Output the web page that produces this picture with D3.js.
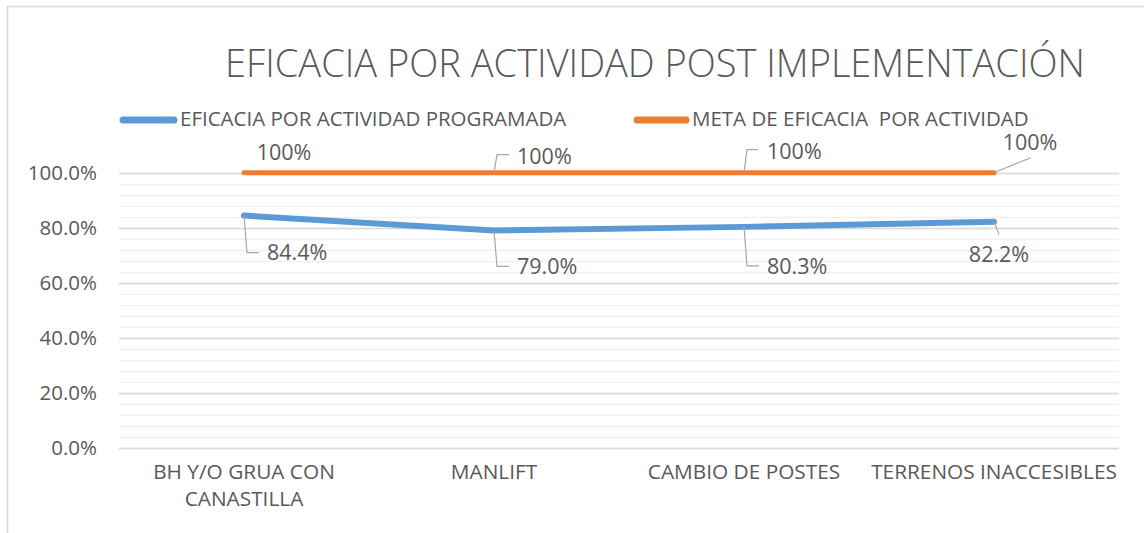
<!DOCTYPE html>
<html>
<head>
<meta charset="utf-8">
<script src="https://cdn.jsdelivr.net/npm/d3@7"></script>
<style>
  html, body { margin: 0; padding: 0; background: #fff; }
  svg { display: block; }
  text { font-family: "Open Sans", "DejaVu Sans", sans-serif; fill: #595959; white-space: pre; }
</style>
</head>
<body>
<svg id="chart" width="1144" height="533"></svg>
<script>
// Data
const categories = ["BH Y/O GRUA CON\nCANASTILLA", "MANLIFT", "CAMBIO DE POSTES", "TERRENOS INACCESIBLES"];
const programada = [0.844, 0.790, 0.803, 0.822];
const meta = [1, 1, 1, 1];
const seriesNames = ["EFICACIA POR ACTIVIDAD PROGRAMADA", "META DE EFICACIA  POR ACTIVIDAD"];
const yTicks = [0, 0.2, 0.4, 0.6, 0.8, 1.0];
const title = "EFICACIA POR ACTIVIDAD POST IMPLEMENTACIÓN";

const svg = d3.select("#chart");
const plot = { left: 119, right: 1119, top: 172.7, bottom: 447.7 };

// chart frame
svg.append("rect").attr("x", 7.5).attr("y", 6.5).attr("width", 1150).attr("height", 540)
  .attr("fill", "#fff").attr("stroke", "#d9d9d9").attr("stroke-width", 1.5);

const x = d3.scaleBand().domain(categories).range([plot.left, plot.right]);
const y = d3.scaleLinear().domain([0, 1]).range([plot.bottom, plot.top]);
const cx = c => x(c) + x.bandwidth() / 2;

// gridlines: minor every 4%, major every 20%
const minor = d3.range(0, 1.0001, 0.04);
svg.append("g").selectAll("line").data(minor).join("line")
  .attr("x1", plot.left).attr("x2", plot.right)
  .attr("y1", d => Math.round(y(d)) + 0.5).attr("y2", d => Math.round(y(d)) + 0.5)
  .attr("stroke", "#f0f0f0").attr("stroke-width", 1.5);
svg.append("g").selectAll("line").data(yTicks).join("line")
  .attr("x1", plot.left).attr("x2", plot.right)
  .attr("y1", d => Math.round(y(d)) + 0.5).attr("y2", d => Math.round(y(d)) + 0.5)
  .attr("stroke", "#d9d9d9").attr("stroke-width", 1.5);

// y axis labels
const yAxis = d3.axisLeft(y).tickValues(yTicks).tickFormat(d3.format(".1%")).tickSize(0).tickPadding(22);
const ya = svg.append("g").attr("transform", `translate(${plot.left},0)`).call(yAxis);
ya.select(".domain").remove();
ya.selectAll("text").attr("font-family", "'Open Sans', sans-serif").attr("font-size", 20.5).attr("fill", "#595959");

// category labels
const xa = svg.append("g");
categories.forEach(c => {
  const lines = c.split("\n");
  const t = xa.append("text").attr("x", cx(c)).attr("y", 479).attr("text-anchor", "middle")
    .attr("font-size", 20.8).attr("fill", "#595959");
  lines.forEach((l, i) => t.append("tspan").attr("x", cx(c)).attr("dy", i === 0 ? 0 : 27).text(l));
});

// lines
const line = d3.line().x((d, i) => cx(categories[i])).y(d => y(d));
svg.append("path").datum(meta).attr("d", line).attr("fill", "none")
  .attr("stroke", "#ED7D31").attr("stroke-width", 5).attr("stroke-linecap", "round").attr("stroke-linejoin", "round");
svg.append("path").datum(programada).attr("d", line).attr("fill", "none")
  .attr("stroke", "#5B9BD5").attr("stroke-width", 6).attr("stroke-linecap", "round").attr("stroke-linejoin", "round");

// data labels with leader lines (offsets relative to each point)
const metaLabelOffsets = [
  { dx: 40, dy: -20, leader: null, anchor: "middle" },
  { dx: 23, dy: -16, leader: [[0, 0], [3, -18], [15, -18]], anchor: "start" },
  { dx: 23, dy: -21, leader: [[0, 0], [3, -23], [14, -23]], anchor: "start" },
  { dx: 36, dy: -30, leader: [[2, -1], [37, -15]], anchor: "middle" }
];
const progLabelOffsets = [
  { dx: 23, dy: 37, leader: [[0, 0], [3, 37], [15, 37]], anchor: "start" },
  { dx: 23, dy: 36, leader: [[0, 0], [3, 36], [15, 36]], anchor: "start" },
  { dx: 23, dy: 40, leader: [[0, 0], [3, 39], [15, 39]], anchor: "start" },
  { dx: 5, dy: 33, leader: [[0, 0], [5, 13]], anchor: "middle" }
];

function drawLabels(values, offsets, fmt) {
  const g = svg.append("g");
  values.forEach((v, i) => {
    const px = cx(categories[i]), py = y(v), o = offsets[i];
    if (o.leader) {
      g.append("path").attr("d", d3.line()(o.leader.map(p => [px + p[0], py + p[1]])))
        .attr("fill", "none").attr("stroke", "#a6a6a6").attr("stroke-width", 1.2);
    }
    g.append("text").attr("x", px + o.dx).attr("y", py + o.dy).attr("dy", "0.35em")
      .attr("text-anchor", o.anchor).attr("font-size", 21.5).attr("fill", "#404040").text(fmt(v));
  });
}
drawLabels(meta, metaLabelOffsets, d3.format(".0%"));
drawLabels(programada, progLabelOffsets, d3.format(".1%"));

// legend
const legend = svg.append("g").attr("transform", "translate(0,119)");
const legendItems = [
  { name: seriesNames[0], color: "#5B9BD5", x0: 123, x1: 174 },
  { name: seriesNames[1], color: "#ED7D31", x0: 637, x1: 686 }
];
legendItems.forEach(it => {
  legend.append("line").attr("x1", it.x0).attr("x2", it.x1).attr("y1", 1).attr("y2", 1)
    .attr("stroke", it.color).attr("stroke-width", 7).attr("stroke-linecap", "round");
  legend.append("text").attr("x", it.x1 + 6).attr("y", 0).attr("dy", "0.35em")
    .attr("font-size", 20.5).attr("fill", "#595959").text(it.name);
});

// title
svg.append("text").attr("x", 655).attr("y", 77).attr("text-anchor", "middle")
  .attr("font-size", 38).attr("font-weight", 300).attr("fill", "#595959").text(title);
</script>
</body>
</html>
